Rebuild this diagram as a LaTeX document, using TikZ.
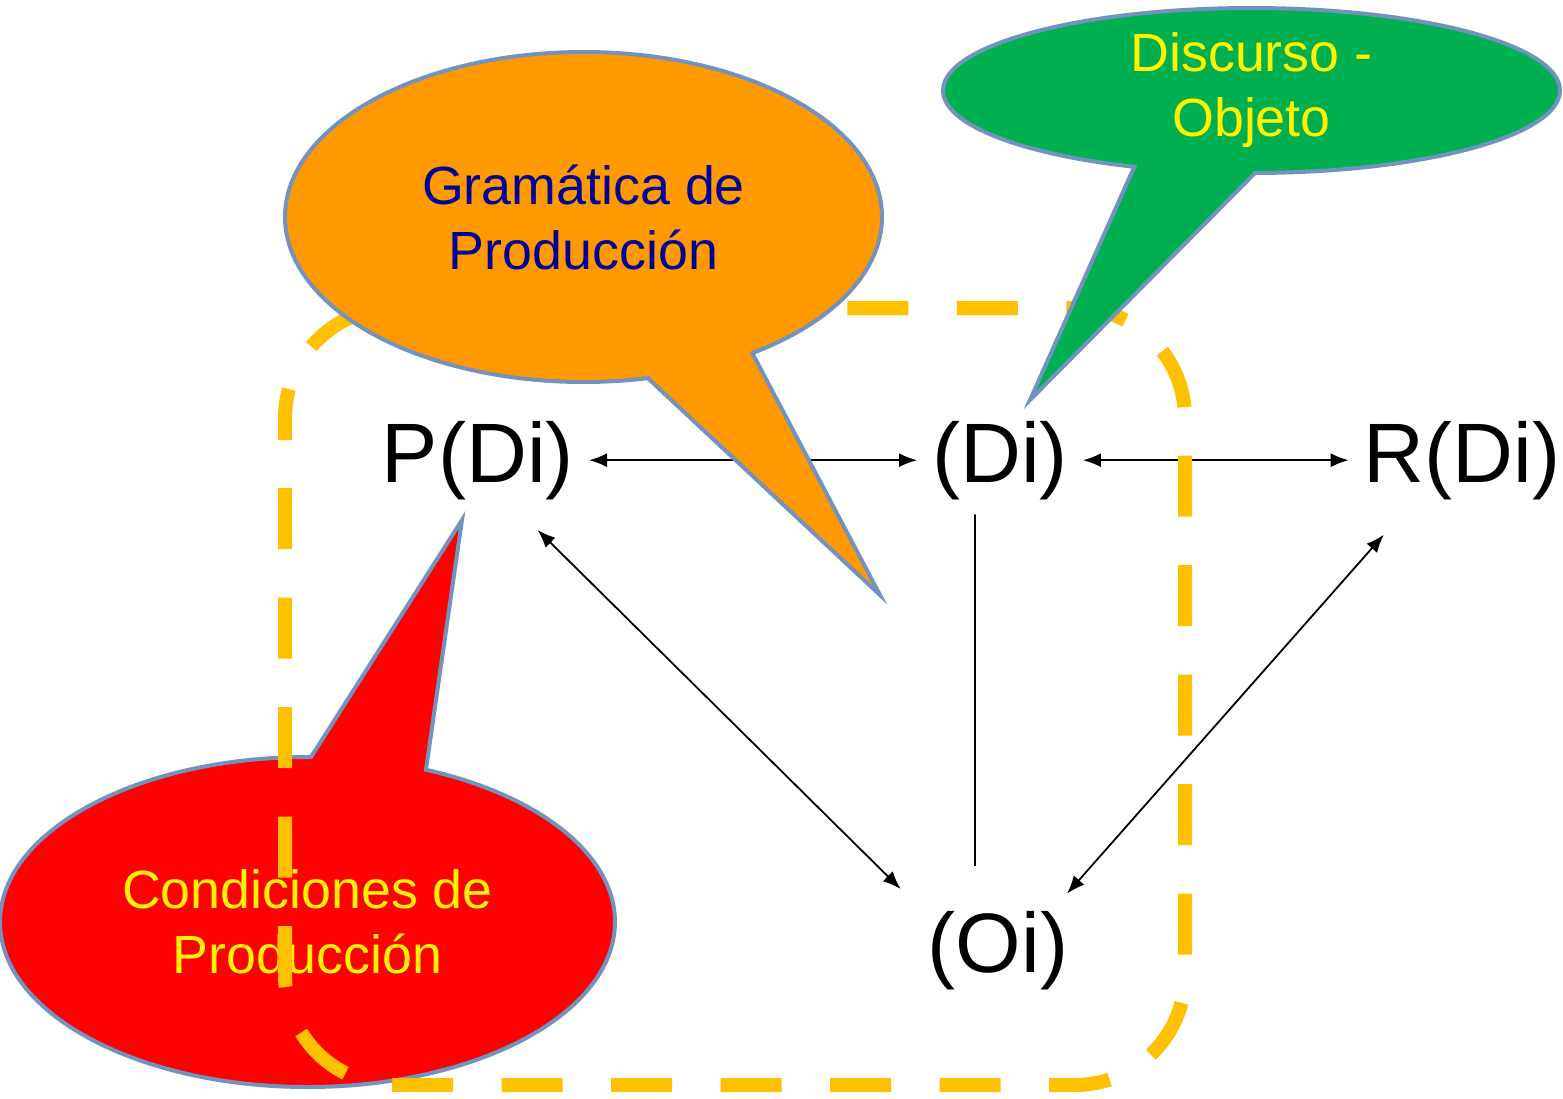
\documentclass[tikz,border=0pt]{standalone}
\usepackage{fontspec}
\setmainfont{Liberation Sans}
\usetikzlibrary{shapes.callouts}
\usetikzlibrary{arrows.meta}
\definecolor{calloutline}{RGB}{114,147,191}
\definecolor{dashgold}{RGB}{255,192,0}
\definecolor{orangefill}{RGB}{255,153,0}
\definecolor{greenfill}{RGB}{0,176,80}
\definecolor{navytext}{RGB}{0,0,153}

\begin{document}
\begin{tikzpicture}
[x=0.1mm,y=-0.1mm,%
  term/.style={font=\fontsize{24}{29}\selectfont,anchor=base,inner sep=1.5mm,outer sep=0pt},%
  balloon/.style={ellipse callout,draw=calloutline,line width=0.4mm,inner sep=0pt,
    align=center,font=\fontsize{15.3}{18.5}\selectfont},%
  link/.style={line width=0.18mm,{Latex[length=1.8mm,width=1.4mm]}-{Latex[length=1.8mm,width=1.4mm]}},%
  yellowdash/.style={draw=dashgold,line width=1.4mm,dash pattern=on 6.1mm off 4.85mm,
    dash phase=6.15mm,rounded corners=11mm}]
\useasboundingbox (0,0) rectangle (1563,1098);
\node[term] (pdi) at (478,482) {P(Di)};
\node[term] (di) at (1000,482) {(Di)};
\node[term] (rdi) at (1462,482) {R(Di)};
\node[term] (oi) at (998,972) {(Oi)};
\node[balloon,fill=red,text=yellow,minimum width=61.5mm,minimum height=33mm,
  callout absolute pointer={(462,520)},callout pointer arc=22] (cond) at (307.5,922)
  {Condiciones de\\Producción};
\draw[link] (pdi.east) -- (di.west);
\draw[link] (di.east) -- (rdi.west);
\draw[link,shorten <=2.2mm,shorten >=1.7mm] (pdi.-51) -- (oi.150);
\draw[link,shorten <=2.7mm,shorten >=0.3mm] (rdi.222) -- (oi.39);
\draw[line width=0.18mm] ([xshift=-2.5mm]di.south) -- ([xshift=-2.3mm,yshift=3mm]oi.north);
\draw[yellowdash] (285,440) -- (285,1085) -- (1185,1085) -- (1185,308) -- (285,308) -- (285,440);
\node[balloon,fill=orangefill,text=navytext,minimum width=59.7mm,minimum height=33mm,
  callout absolute pointer={(880,595)},callout pointer arc=22] (gram) at (583.5,217)
  {Gramática de\\Producción};
\node[balloon,fill=greenfill,text=yellow,minimum width=61.7mm,minimum height=16.5mm,
  callout absolute pointer={(1030,400)},callout pointer arc=23] (disc) at (1251.5,90.5)
  {Discurso -\\Objeto};
\end{tikzpicture}
\end{document}
